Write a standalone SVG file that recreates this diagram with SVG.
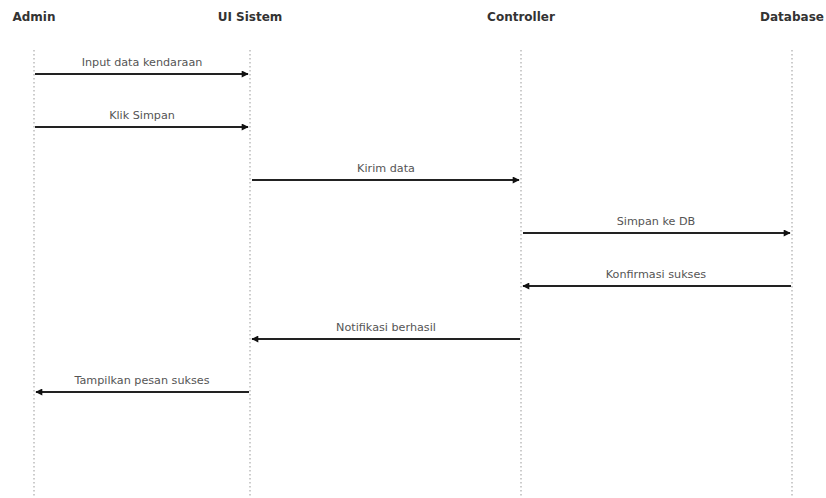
<svg xmlns="http://www.w3.org/2000/svg" width="826" height="498" viewBox="0 0 826 498">
<style>
.hdr{font-family:"DejaVu Sans",sans-serif;font-weight:bold;font-size:12px;fill:#333;text-anchor:middle}
.lbl{font-family:"DejaVu Sans",sans-serif;font-size:11.2px;fill:#555;text-anchor:middle}
.life{stroke:#999;stroke-width:1;stroke-dasharray:1.5,2.5;fill:none}
.msg{stroke:#222;stroke-width:1.9;fill:none;marker-end:url(#ah)}
</style>
<defs>
<marker id="ah" viewBox="0 0 10 10" refX="9" refY="5" markerWidth="8" markerHeight="7" markerUnits="userSpaceOnUse" orient="auto">
<path d="M0,0 L10,5 L0,10 z" fill="#111"/>
</marker>
</defs>
<rect width="826" height="498" fill="#fff"/>
<g id="admin"><text class="hdr" x="34" y="21">Admin</text><line class="life" x1="34" y1="50" x2="34" y2="498"/></g>
<g id="ui"><text class="hdr" x="250" y="21">UI Sistem</text><line class="life" x1="250" y1="50" x2="250" y2="498"/></g>
<g id="controller"><text class="hdr" x="521" y="21">Controller</text><line class="life" x1="521" y1="50" x2="521" y2="498"/></g>
<g id="database"><text class="hdr" x="792" y="21">Database</text><line class="life" x1="792" y1="50" x2="792" y2="498"/></g>
<g id="connectors">
<line class="msg" x1="35" y1="74" x2="248" y2="74"/>
<text class="lbl" x="142" y="66">Input data kendaraan</text>
<line class="msg" x1="35" y1="127" x2="248" y2="127"/>
<text class="lbl" x="142" y="119">Klik Simpan</text>
<line class="msg" x1="252" y1="180" x2="519" y2="180"/>
<text class="lbl" x="386" y="172">Kirim data</text>
<line class="msg" x1="523" y1="233" x2="790" y2="233"/>
<text class="lbl" x="656" y="225">Simpan ke DB</text>
<line class="msg" x1="791" y1="286" x2="523" y2="286"/>
<text class="lbl" x="656" y="278">Konfirmasi sukses</text>
<line class="msg" x1="520" y1="339" x2="252" y2="339"/>
<text class="lbl" x="386" y="331">Notifikasi berhasil</text>
<line class="msg" x1="249" y1="392" x2="36" y2="392"/>
<text class="lbl" x="142" y="384">Tampilkan pesan sukses</text>
</g>
</svg>
